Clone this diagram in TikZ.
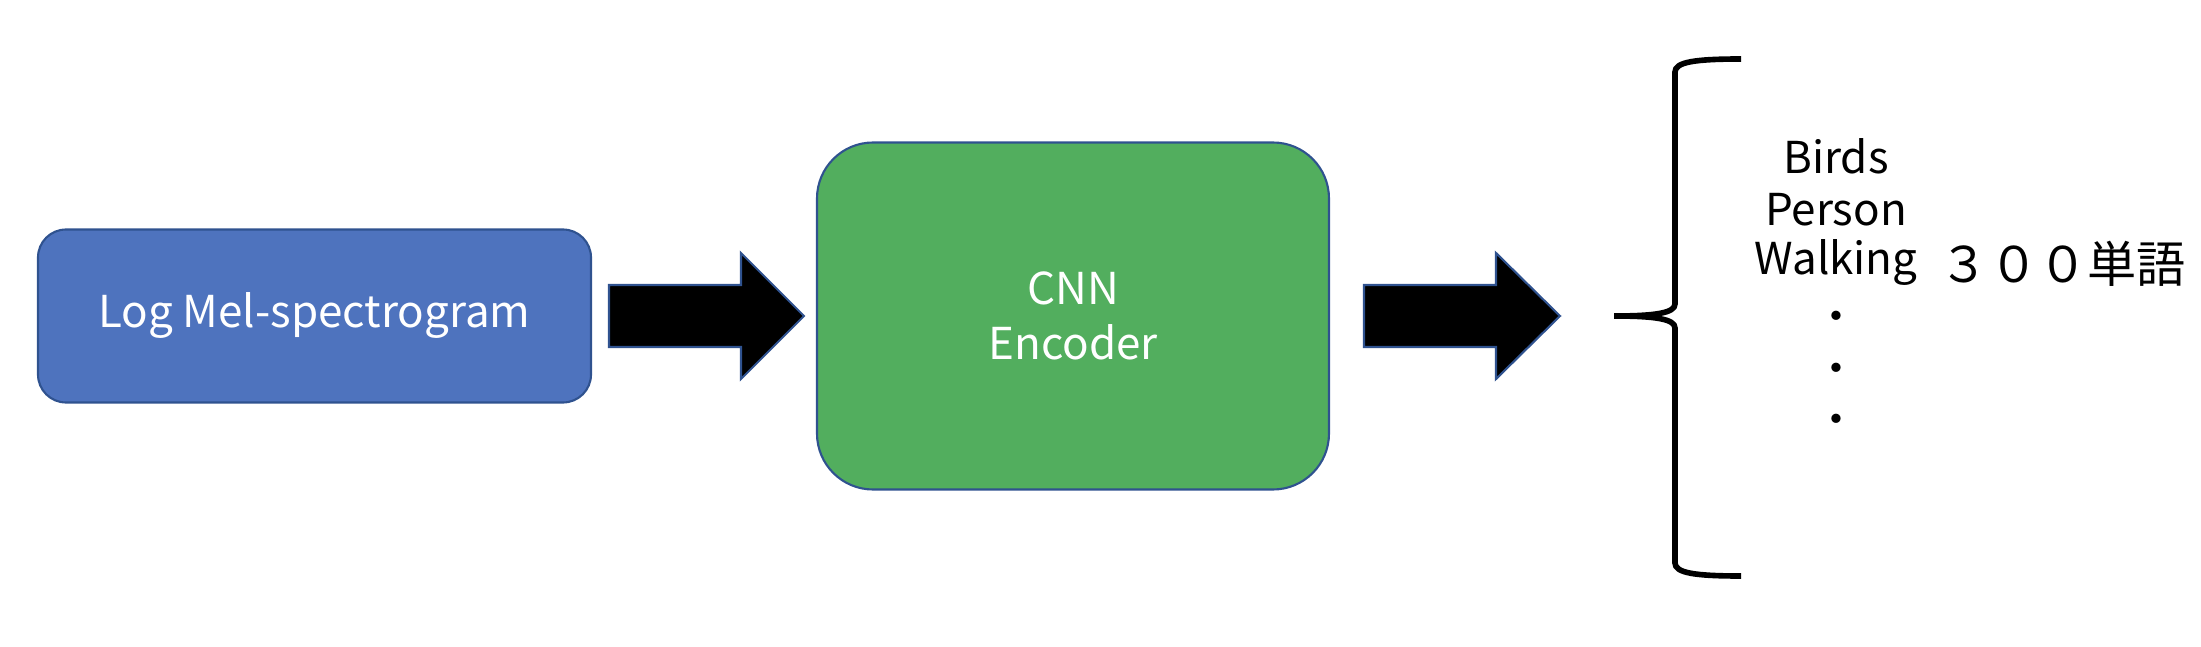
\documentclass[tikz,border=0pt]{standalone}
\usepackage{fontspec}
\setmainfont{Noto Sans CJK JP}
\usetikzlibrary{positioning}
\definecolor{boxblue}{HTML}{4E73BE}
\definecolor{boxgreen}{HTML}{52AE5E}
\definecolor{edgeblue}{HTML}{2F528F}
\tikzset{
  block/.style={draw=edgeblue, line width=0.6pt, text=white, align=center, font=\fontsize{12.5}{15.6}\selectfont},
  fatarrow/.style={fill=black, draw=edgeblue, line width=0.6pt},
  word/.style={anchor=base, font=\fontsize{12.5}{15}\selectfont},
}
\begin{document}
\begin{tikzpicture}[scale=1]
\useasboundingbox (0,0) rectangle (22.01,6.46);

\node [block, fill=boxblue, rounded corners=0.28cm, minimum width=5.53cm, minimum height=1.73cm] (mel) at (3.145,3.30) {Log Mel-spectrogram};
\node [block, fill=boxgreen, rounded corners=0.56cm, minimum width=5.12cm, minimum height=3.47cm] (cnn) at (10.73,3.30) {CNN\\Encoder};

\draw[fatarrow] (6.09,2.99) -- (7.41,2.99) -- (7.41,2.67) -- (8.04,3.30) -- (7.41,3.93) -- (7.41,3.61) -- (6.09,3.61) -- cycle;
\draw[fatarrow] (13.64,2.99) -- (14.96,2.99) -- (14.96,2.67) -- (15.60,3.30) -- (14.96,3.93) -- (14.96,3.61) -- (13.64,3.61) -- cycle;

% brace
\draw[line width=1.6pt] (17.41,5.87) .. controls (16.95,5.87) and (16.75,5.84) .. (16.75,5.74) -- (16.75,3.42) .. controls (16.75,3.33) and (16.55,3.30) .. (16.14,3.30) .. controls (16.55,3.30) and (16.75,3.27) .. (16.75,3.18) -- (16.75,0.83) .. controls (16.75,0.73) and (16.95,0.70) .. (17.41,0.70);

\node [word] (birds) at (18.36,4.73) {Birds};
\node [word] (person) at (18.36,4.21) {Person};
\node [word] (walking) at (18.36,3.71) {Walking};
\node [word, anchor=center] (dot1) at (18.36,3.24) {・};
\node [word, anchor=center] (dot2) at (18.36,2.72) {・};
\node [word, anchor=center] (dot3) at (18.36,2.21) {・};

\node [word, font=\fontsize{14}{16}\selectfont] (count) at (20.63,3.64) {３００単語};
\end{tikzpicture}
\end{document}
